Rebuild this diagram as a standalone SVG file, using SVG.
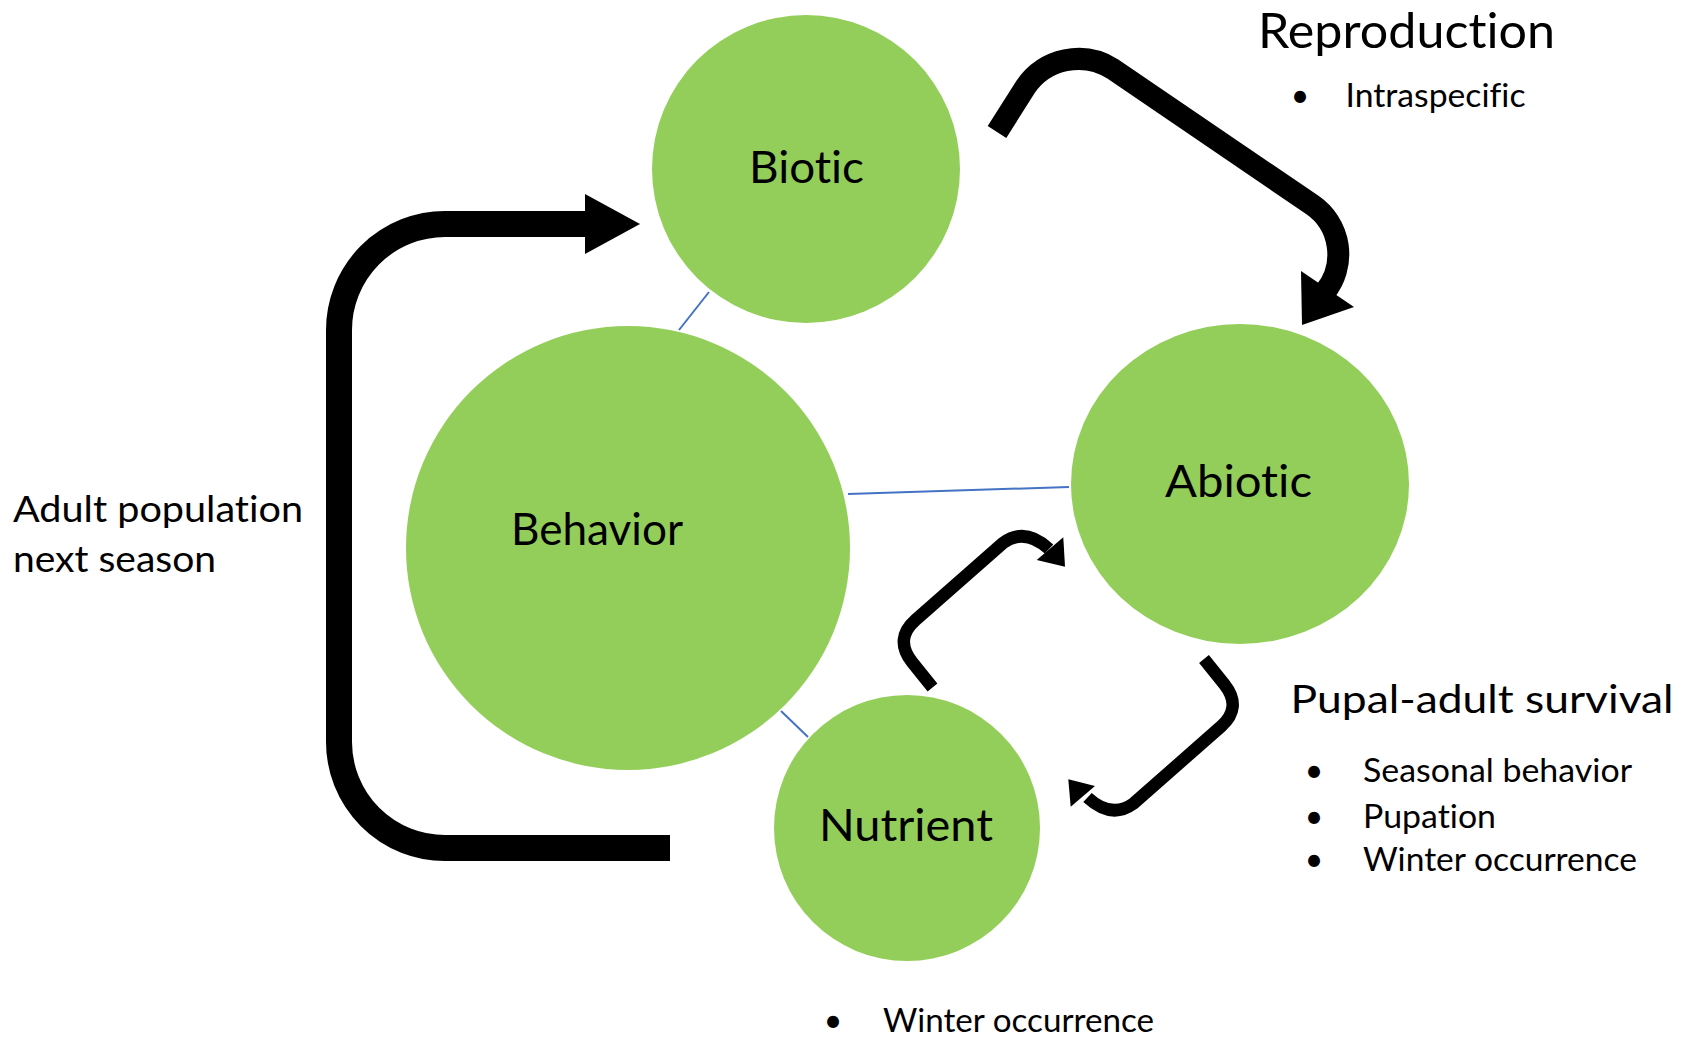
<svg xmlns="http://www.w3.org/2000/svg" width="1689" height="1037" viewBox="0 0 1689 1037">
<style>
.node{fill:#94CE5A;}
.lbl{font-family:Lato,"Liberation Sans",sans-serif;fill:#000;font-variant-ligatures:none;}
.nl{font-size:44px;text-anchor:middle;}
.item{font-size:32px;}
.link{stroke:#4472C4;stroke-width:2;fill:none;}
.big{stroke:#000;fill:none;stroke-linecap:butt;stroke-linejoin:round;}
.head{fill:#000;}
</style>
<rect width="1689" height="1037" fill="#fff"/>
<g id="connectors">
  <line class="link" x1="709" y1="292" x2="679" y2="330"/>
  <line class="link" x1="848" y1="494" x2="1069" y2="487"/>
  <line class="link" x1="781" y1="711" x2="808" y2="737"/>
  <path class="big" stroke-width="26" d="M 670 848 H 445 A 106 106 0 0 1 339 742 V 330 A 106 106 0 0 1 445 224 H 590"/>
  <polygon class="head" points="585,194 640,224 585,254"/>
  <path class="big" stroke-width="22" d="M 997 132 L 1025.4 87.2 A 64 64 0 0 1 1112.8 69 L 1312.3 204.9 A 60 60 0 0 1 1325 292"/>
  <polygon class="head" points="1301,271 1354,307 1302,325"/>
  <path class="big" stroke-width="12.5" d="M 932.5 687.5 L 912 662 Q 894 639 915.5 620 L 1003 543 Q 1025 527 1049 549"/>
  <polygon class="head" points="1036.7,560 1063.3,537.3 1065,566.7"/>
  <path class="big" stroke-width="12.5" d="M 1204 659 L 1224.5 684.5 Q 1242.5 707.5 1221 726.5 L 1133.5 803.5 Q 1111.5 819.5 1087.5 797.5"/>
  <polygon class="head" points="1095,786 1070.7,806.7 1068.3,779.3"/>
</g>
<g id="biotic">
  <circle class="node" cx="806" cy="169" r="154"/>
  <text class="lbl nl" x="806.5" y="183" textLength="115" lengthAdjust="spacingAndGlyphs">Biotic</text>
</g>
<g id="behavior">
  <circle class="node" cx="628" cy="548" r="222"/>
  <text class="lbl nl" x="597" y="545" textLength="172" lengthAdjust="spacingAndGlyphs">Behavior</text>
</g>
<g id="abiotic">
  <ellipse class="node" cx="1240" cy="484" rx="169" ry="160"/>
  <text class="lbl nl" x="1238.5" y="497" textLength="147" lengthAdjust="spacingAndGlyphs">Abiotic</text>
</g>
<g id="nutrient">
  <circle class="node" cx="907" cy="828" r="133"/>
  <text class="lbl nl" x="906" y="841" textLength="174" lengthAdjust="spacingAndGlyphs">Nutrient</text>
</g>
<g id="reproduction-label">
  <text class="lbl" x="1258" y="48" font-size="49" textLength="297" lengthAdjust="spacingAndGlyphs">Reproduction</text>
  <text class="lbl item" x="1300" y="107" text-anchor="middle">•</text>
  <text class="lbl item" x="1345.5" y="107" textLength="180" lengthAdjust="spacingAndGlyphs">Intraspecific</text>
</g>
<g id="adult-label">
  <text class="lbl" x="13" y="521.7" font-size="37" textLength="290" lengthAdjust="spacingAndGlyphs">Adult population</text>
  <text class="lbl" x="13" y="572" font-size="37" textLength="203" lengthAdjust="spacingAndGlyphs">next season</text>
</g>
<g id="pupal-label">
  <text class="lbl" x="1290.6" y="713" font-size="39" textLength="383" lengthAdjust="spacingAndGlyphs">Pupal-adult survival</text>
  <text class="lbl item" x="1314" y="782.3" text-anchor="middle">•</text>
  <text class="lbl item" x="1363" y="782.3" textLength="269" lengthAdjust="spacingAndGlyphs">Seasonal behavior</text>
  <text class="lbl item" x="1314" y="828" text-anchor="middle">•</text>
  <text class="lbl item" x="1363" y="828" textLength="133" lengthAdjust="spacingAndGlyphs">Pupation</text>
  <text class="lbl item" x="1314" y="870.7" text-anchor="middle">•</text>
  <text class="lbl item" x="1363" y="870.7" textLength="274" lengthAdjust="spacingAndGlyphs">Winter occurrence</text>
</g>
<g id="nutrient-label">
  <text class="lbl item" x="833" y="1031.7" text-anchor="middle">•</text>
  <text class="lbl item" x="883" y="1031.7" textLength="271" lengthAdjust="spacingAndGlyphs">Winter occurrence</text>
</g>
</svg>
